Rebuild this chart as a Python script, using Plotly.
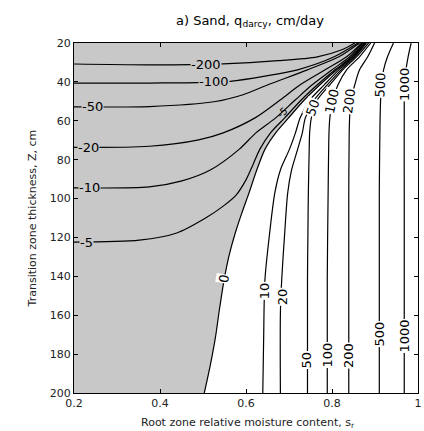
import plotly.graph_objects as go

# ---- axes ----
s_range = [0.2, 1.0]
z_range = [20, 200]
x_tickvals = [0.2, 0.4, 0.6, 0.8, 1.0]
x_ticktext = ["0.2", "0.4", "0.6", "0.8", "1"]
y_tickvals = [20, 40, 60, 80, 100, 120, 140, 160, 180, 200]

# ---- contour lines of q_darcy (cm/day) ----
s_m200 = [0.200, 0.375, 0.547, 0.674, 0.766, 0.823, 0.853]
z_m200 = [30.8, 31.2, 30.7, 29.1, 27.1, 23.5, 20.0]

s_m100 = [0.200, 0.375, 0.563, 0.651, 0.720, 0.805, 0.860]
z_m100 = [40.6, 40.6, 39.7, 36.8, 33.8, 27.1, 20.0]

s_m50 = [0.200, 0.375, 0.529, 0.593, 0.651, 0.743, 0.816, 0.864]
z_m50 = [52.8, 52.7, 50.1, 46.6, 41.5, 33.8, 27.1, 20.0]

s_m20 = [0.200, 0.375, 0.490, 0.547, 0.621, 0.680, 0.726, 0.784, 0.834, 0.869]
z_m20 = [73.7, 73.1, 69.8, 66.2, 58.5, 49.2, 41.5, 33.8, 27.1, 20.0]

s_m10 = [0.200, 0.375, 0.451, 0.517, 0.584, 0.623, 0.669, 0.715, 0.754, 0.800, 0.841, 0.871]
z_m10 = [94.5, 94.0, 90.9, 85.3, 74.7, 66.2, 58.5, 49.2, 41.5, 33.8, 27.1, 20.0]

s_m5 = [0.200, 0.352, 0.439, 0.506, 0.547, 0.577, 0.600, 0.616, 0.632, 0.657,
        0.690, 0.729, 0.766, 0.807, 0.846, 0.874]
z_m5 = [122.4, 121.4, 117.7, 110.0, 103.9, 98.2, 90.4, 82.7, 74.7, 66.2,
        58.5, 49.2, 41.5, 33.8, 27.1, 20.0]

s_0 = [0.503, 0.517, 0.529, 0.538, 0.549, 0.561, 0.575, 0.591, 0.607, 0.625,
       0.644, 0.669, 0.699, 0.736, 0.772, 0.811, 0.848, 0.876]
z_0 = [200.0, 185.7, 171.3, 157.3, 141.9, 129.0, 117.7, 107.0, 97.1, 85.3,
       74.7, 66.2, 58.5, 49.2, 41.5, 33.8, 27.1, 20.0]

s_10 = [0.639, 0.641, 0.644, 0.655, 0.667, 0.680, 0.701, 0.715, 0.726, 0.749,
        0.782, 0.816, 0.851, 0.878]
z_10 = [200.0, 172.8, 141.9, 117.7, 97.1, 85.3, 74.7, 66.2, 58.5, 49.2,
        41.5, 33.8, 27.1, 20.0]

s_20 = [0.680, 0.680, 0.683, 0.690, 0.697, 0.706, 0.720, 0.731, 0.738, 0.759,
        0.789, 0.821, 0.853, 0.880]
z_20 = [200.0, 159.0, 141.9, 117.7, 97.1, 85.3, 74.7, 66.2, 58.5, 49.2,
        41.5, 33.8, 27.1, 20.0]

s_50 = [0.743, 0.743, 0.744, 0.745, 0.747, 0.748, 0.752, 0.766, 0.795, 0.825, 0.857, 0.885]
z_50 = [200.0, 141.9, 117.7, 97.1, 74.7, 66.2, 58.5, 49.2, 41.5, 33.8, 27.1, 20.0]

s_100 = [0.789, 0.789, 0.791, 0.793, 0.795, 0.802, 0.814, 0.834, 0.864, 0.890]
z_100 = [200.0, 141.9, 97.1, 66.2, 58.5, 49.2, 41.5, 33.8, 27.1, 20.0]

s_200 = [0.839, 0.839, 0.840, 0.841, 0.844, 0.853, 0.864, 0.883, 0.899]
z_200 = [200.0, 97.1, 66.2, 58.5, 49.2, 41.5, 33.8, 27.1, 20.0]

s_500 = [0.910, 0.910, 0.913, 0.915, 0.920, 0.929, 0.943]
z_500 = [200.0, 97.1, 49.2, 41.5, 33.8, 27.1, 20.0]

s_1000 = [0.968, 0.968, 0.968, 0.969, 0.972, 0.977, 0.984]
z_1000 = [200.0, 97.1, 49.2, 41.5, 33.8, 27.1, 20.0]

contours = [
    (-200, s_m200, z_m200), (-100, s_m100, z_m100), (-50, s_m50, z_m50),
    (-20, s_m20, z_m20), (-10, s_m10, z_m10), (-5, s_m5, z_m5),
    (0, s_0, z_0), (10, s_10, z_10), (20, s_20, z_20), (50, s_50, z_50),
    (100, s_100, z_100), (200, s_200, z_200), (500, s_500, z_500),
    (1000, s_1000, z_1000),
]

# ---- contour labels: text, s, Z, angle ----
label_text = ["-200", "-100", "-50", "-20", "-10", "-5", "0", "10", "20",
              "50", "50", "100", "100", "200", "200", "500", "500", "1000", "1000", "-5"]
label_s = [0.507, 0.526, 0.244, 0.234, 0.237, 0.228, 0.549, 0.642, 0.684,
           0.740, 0.756, 0.789, 0.800, 0.839, 0.841, 0.910, 0.913, 0.968, 0.970, 0.684]
label_z = [30.8, 39.9, 52.8, 73.9, 94.5, 122.6, 141.2, 147.7, 150.7,
           183.2, 53.4, 180.6, 50.2, 180.6, 49.8, 169.8, 41.5, 170.8, 41.5, 55.6]
label_angle = [0, 0, 0, 0, 0, 0, -80, -90, -90,
               -90, -70, -90, -78, -90, -83, -90, -88, -90, -90, -40]

GRAY = "#c8c8c8"
FONT = "DejaVu Sans"

fig = go.Figure()

# negative region shading (left of the zero contour)
fig.add_trace(go.Scatter(
    x=[s_range[0], s_range[0]] + s_0[::-1],
    y=[z_range[1], z_range[0]] + z_0[::-1],
    fill="toself", fillcolor=GRAY, mode="lines", line=dict(width=0),
    hoverinfo="skip", showlegend=False))

for lev, xs, ys in contours:
    fig.add_trace(go.Scatter(
        x=xs, y=ys, mode="lines",
        line=dict(color="black", width=1.2, shape="spline", smoothing=0.8),
        hoverinfo="skip", showlegend=False, name=str(lev)))

annotations = []
for t, sx, zy, ang in zip(label_text, label_s, label_z, label_angle):
    neg = t.startswith("-")
    small = (ang == -40)
    ann = dict(
        x=sx, y=zy, xref="x", yref="y", text=t, showarrow=False,
        textangle=ang, font=dict(family=FONT, size=10 if small else 13, color="black"),
        borderpad=0, xanchor="center", yanchor="middle")
    if not small:
        ann["bgcolor"] = GRAY if neg else "white"
    annotations.append(ann)

# axis titles
annotations.append(dict(
    x=0.506, y=-0.086, xref="paper", yref="paper", showarrow=False,
    text="Root zone relative moisture content, s<sub>r</sub>",
    font=dict(family=FONT, size=11, color="#222"), xanchor="center", yanchor="middle"))
annotations.append(dict(
    x=-0.121, y=0.5, xref="paper", yref="paper", showarrow=False, textangle=-90,
    text="Transition zone thickness, Z, cm",
    font=dict(family=FONT, size=11, color="#222"), xanchor="center", yanchor="middle"))

axis_common = dict(showline=True, linecolor="black", linewidth=1, mirror="allticks",
                   ticks="inside", ticklen=4, tickcolor="black", showgrid=False,
                   zeroline=False, tickfont=dict(family=FONT, size=11, color="#222"),
                   ticklabeloverflow="allow")

fig.update_layout(
    width=424, height=431,
    margin=dict(l=74, r=2, t=43, b=38),
    paper_bgcolor="white", plot_bgcolor="white",
    title=dict(text="a) Sand, q<sub>darcy</sub>, cm/day", x=250 / 424, xref="container",
               xanchor="center", y=1 - 20 / 431, yref="container", yanchor="middle",
               font=dict(family=FONT, size=13, color="black")),
    xaxis=dict(range=s_range, tickvals=x_tickvals, ticktext=x_ticktext, **axis_common),
    yaxis=dict(range=[z_range[1], z_range[0]], tickvals=y_tickvals, **axis_common),
    annotations=annotations,
)

fig.write_html("out.html")
